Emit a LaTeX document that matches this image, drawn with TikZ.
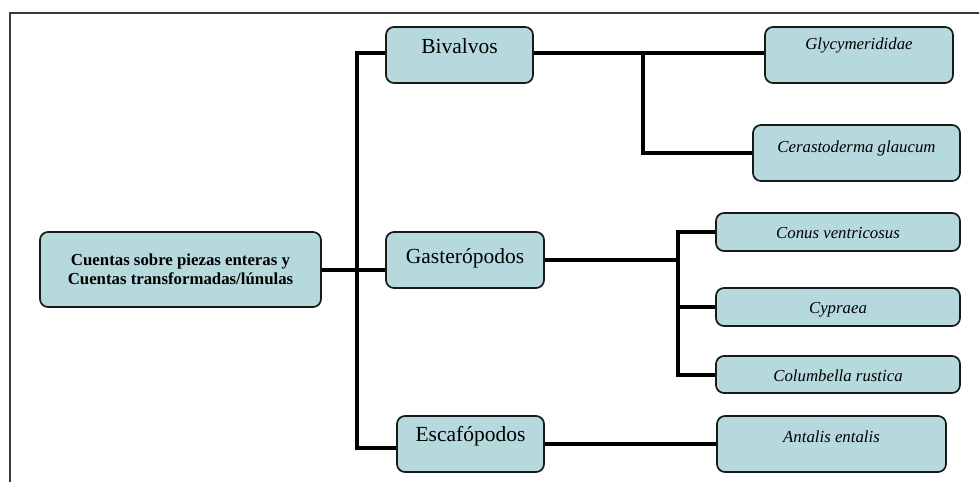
\documentclass[tikz,border=0pt]{standalone}
\usepackage{fontspec}
\setmainfont{Liberation Serif}
\usetikzlibrary{backgrounds}
\definecolor{boxfill}{HTML}{B6D9DD}
\definecolor{framegray}{HTML}{3A3A3A}
\tikzset{
  box/.style={draw=black!90, line width=1.7pt, fill=boxfill, rounded corners=8pt,
    inner xsep=0pt, inner ysep=0pt, align=center},
  taxon/.style={box, font=\fontsize{16.8}{19}\selectfont\itshape},
  group/.style={box, font=\fontsize{21.5}{24}\selectfont},
  link/.style={line width=4pt, line cap=rect}
}
\begin{document}
\begin{tikzpicture}[x=1pt, y=-1pt]
\useasboundingbox (0,0) rectangle (979,482);

\node[box, minimum width=281pt, minimum height=75pt,
      font=\fontsize{16.8}{19.5}\selectfont\bfseries] (root) at (180.5,269.5)
  {Cuentas sobre piezas enteras y\\Cuentas transformadas/lúnulas};

\node[group, minimum width=147pt, text height=26pt, text depth=30pt] (biv) at (459.5,55) {Bivalvos};
\node[group, minimum width=158pt, text height=31pt, text depth=25pt] (gas) at (465,260) {Gasterópodos};
\node[group, minimum width=147pt, text height=25pt, text depth=31pt] (esc) at (470.5,444) {Escafópodos};

\node[taxon, minimum width=188pt, text height=22pt, text depth=34pt] (gly) at (859,55) {Glycymerididae};
\node[taxon, minimum width=207pt, text height=27pt, text depth=29pt] (cer) at (856.5,153) {Cerastoderma glaucum};
\node[taxon, minimum width=244pt, text height=25pt, text depth=13pt] (con) at (838,232) {Conus ventricosus};
\node[taxon, minimum width=244pt, text height=25pt, text depth=13pt] (cyp) at (838,307) {Cypraea};
\node[taxon, minimum width=244pt, text height=25pt, text depth=12pt] (col) at (838,374.5) {Columbella rustica};
\node[taxon, minimum width=229pt, text height=26pt, text depth=30pt] (ant) at (831.5,444) {Antalis entalis};

\coordinate (trunk) at (357,0);
\coordinate (bbr) at (643,0);
\coordinate (gbr) at (678,0);
\coordinate (bivW) at ([yshift=2pt]biv.west);
\coordinate (bivE) at ([yshift=2pt]biv.east);
\coordinate (glyW) at ([yshift=2pt]gly.west);
\coordinate (escW) at ([yshift=-4pt]esc.west);

\begin{pgfonlayer}{background}
\fill[white] (0,0) rectangle (979,482);
\draw[framegray, line width=1.2pt] (979,13) -- (10,13) -- (10,482);
\draw[link] (root.east) -- (gas.west |- root.east);
\draw[link] (bivW) -- (trunk |- bivW) -- (trunk |- escW) -- (escW);
\draw[link] (bivE) -- (glyW);
\draw[link] (bbr |- bivE) -- (bbr |- cer.west) -- (cer.west);
\draw[link] (gas.east) -- (gbr |- gas.east);
\draw[link] (con.west) -- (gbr |- con.west) -- (gbr |- col.west) -- (col.west);
\draw[link] (gbr |- cyp.west) -- (cyp.west);
\draw[link] (esc.east) -- (ant.west);
\end{pgfonlayer}
\end{tikzpicture}
\end{document}
